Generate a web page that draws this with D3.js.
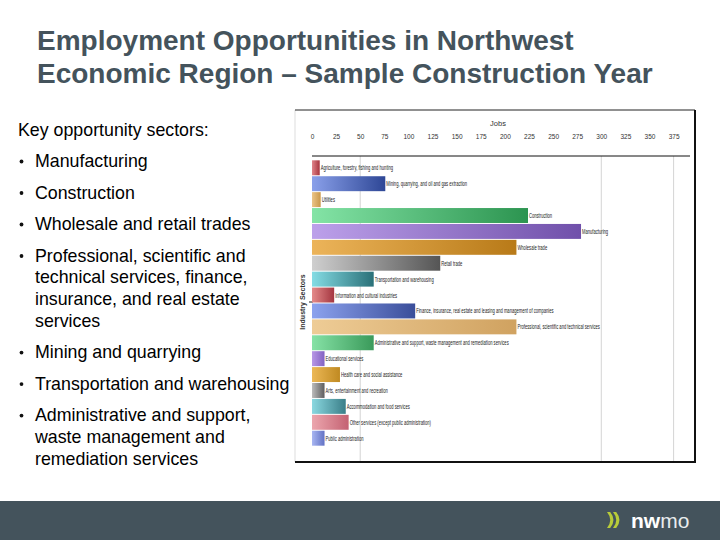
<!DOCTYPE html>
<html><head><meta charset="utf-8">
<script src="https://cdn.jsdelivr.net/npm/d3@7"></script>
<style>html,body{margin:0;padding:0;background:#fff;}svg{display:block;font-family:"Liberation Sans",Arial,sans-serif;}</style>
</head><body>
<svg id="c" width="720" height="540"></svg>
<script>
const titleLines = ["Employment Opportunities in Northwest", "Economic Region \u2013 Sample Construction Year"];
const introText = "Key opportunity sectors:";
const bullets = [
  ["Manufacturing"],
  ["Construction"],
  ["Wholesale and retail trades"],
  ["Professional, scientific and", "technical services, finance,", "insurance, and real estate", "services"],
  ["Mining and quarrying"],
  ["Transportation and warehousing"],
  ["Administrative and support,", "waste management and", "remediation services"]
];
const sectors = [
  "Agriculture, forestry, fishing and hunting",
  "Mining, quarrying, and oil and gas extraction",
  "Utilities",
  "Construction",
  "Manufacturing",
  "Wholesale trade",
  "Retail trade",
  "Transportation and warehousing",
  "Information and cultural industries",
  "Finance, insurance, real estate and leasing and management of companies",
  "Professional, scientific and technical services",
  "Administrative and support, waste management and remediation services",
  "Educational services",
  "Health care and social assistance",
  "Arts, entertainment and recreation",
  "Accommodation and food services",
  "Other services (except public administration)",
  "Public administration"
];
const jobs = [8, 76, 9, 224, 279, 212, 133, 64, 23, 107, 212, 64, 13, 29, 13, 35, 38, 13];
const tickValues = [0, 25, 50, 75, 100, 125, 150, 175, 200, 225, 250, 275, 300, 325, 350, 375];
const gridValues = [50, 300, 375];
const xTitle = "Jobs";
const yTitle = "Industry Sectors";

const palette = [
  ["#e0848a","#a8343e"],["#8aa0ea","#2e4796"],["#ecc588","#c9974a"],["#84e4a6","#2c9450"],
  ["#bca0ea","#7050aa"],["#ecb45a","#b87a18"],["#cfcfcf","#555555"],["#84dce4","#2a7078"],
  ["#e48a8a","#a43640"],["#8ca2ee","#3a4e9a"],["#eecc96","#d0a260"],["#86e2a6","#3a9a5a"],
  ["#b898e6","#8262c2"],["#ecb856","#c08a22"],["#bcbcbc","#5e5e5e"],["#8ad8e0","#3a7e88"],
  ["#eca6ae","#c46272"],["#a8b6f2","#6272c4"]
];

const svg = d3.select("#c");
const slate = "#44535c";

// Title
svg.append("g").selectAll("text").data(titleLines).join("text")
  .attr("x", 37).attr("y", (d,i) => 50 + i*33)
  .attr("fill", slate).attr("font-size", 28).attr("font-weight", "bold")
  .text(d => d);

// Left text
const bodySize = 17.8;
svg.append("text").attr("x", 18).attr("y", 136).attr("font-size", bodySize).attr("fill", "#000").text(introText);
let yy = 167;
const lg = svg.append("g");
bullets.forEach(b => {
  lg.append("circle").attr("cx", 21.5).attr("cy", yy - 5.5).attr("r", 1.9).attr("fill", "#111");
  b.forEach((ln, j) => {
    lg.append("text").attr("x", 35).attr("y", yy + j*21.7).attr("font-size", bodySize).attr("fill", "#000").text(ln);
  });
  yy += (b.length - 1)*21.7 + 31.5;
});

// Chart frame
const fx = 295, fy = 110, fw = 400, fh = 352;
svg.append("line").attr("x1", fx).attr("x2", fx).attr("y1", fy).attr("y2", fy+fh).attr("stroke", "#ddd");
svg.append("line").attr("x1", fx).attr("x2", fx+fw).attr("y1", fy).attr("y2", fy).attr("stroke", "#222").attr("stroke-width", 1);
svg.append("line").attr("x1", fx+fw).attr("x2", fx+fw).attr("y1", fy).attr("y2", fy+fh+1).attr("stroke", "#111").attr("stroke-width", 2);
svg.append("line").attr("x1", fx).attr("x2", fx+fw+1).attr("y1", fy+fh).attr("y2", fy+fh).attr("stroke", "#111").attr("stroke-width", 2);

const x = d3.scaleLinear().domain([0, 392]).range([312, 690]);
const y = d3.scaleBand().domain(sectors).range([160, 446]).paddingInner(0.06).paddingOuter(0.02);

// gradients
const defs = svg.append("defs");
palette.forEach((p, i) => {
  const g = defs.append("linearGradient").attr("id", "g"+i).attr("x1","0").attr("x2","1").attr("y1","0").attr("y2","0");
  g.append("stop").attr("offset","0").attr("stop-color", p[0]);
  g.append("stop").attr("offset","1").attr("stop-color", p[1]);
});

// gridlines
svg.append("g").selectAll("line").data(gridValues).join("line")
  .attr("x1", d => x(d)).attr("x2", d => x(d)).attr("y1", 156).attr("y2", fy+fh-1)
  .attr("stroke", "#d4d4d4").attr("stroke-width", 1);

// axis
const ax = svg.append("g").attr("transform", "translate(0,156)")
  .call(d3.axisTop(x).tickValues(tickValues).tickSize(0).tickPadding(17).tickFormat(d3.format("d")));
ax.select(".domain").attr("stroke", "#111").attr("d", "M312,0H690");
ax.selectAll("text").attr("font-size", 6.5).attr("fill", "#333").attr("font-family", "Liberation Sans, Arial");

svg.append("text").attr("x", 498).attr("y", 126).attr("text-anchor", "middle")
  .attr("font-size", 7.5).attr("fill", "#333").text(xTitle);

// y title
svg.append("text").attr("transform", "translate(305,302) rotate(-90)").attr("text-anchor", "middle")
  .attr("font-size", 7).attr("font-weight", "bold").attr("fill", "#333").text(yTitle);
svg.append("line").attr("x1", 309).attr("x2", 313).attr("y1", 302).attr("y2", 302).attr("stroke", "#222");

// bars
svg.append("g").selectAll("rect").data(sectors).join("rect")
  .attr("x", x(0)).attr("y", d => y(d)).attr("height", y.bandwidth())
  .attr("width", (d,i) => x(jobs[i]) - x(0))
  .attr("fill", (d,i) => `url(#g${i})`);

// labels
svg.append("g").selectAll("text").data(sectors).join("text")
  .attr("transform", (d,i) => `translate(${x(jobs[i]) + 1},${y(d) + y.bandwidth()/2 + 2.5}) scale(0.55,1)`)
  .attr("font-size", 7.5).attr("fill", "#222").text(d => d);

// footer
svg.append("rect").attr("x", 0).attr("y", 501).attr("width", 720).attr("height", 39).attr("fill", slate);
const lime = "#b8cc3a";
[0, 6].forEach(o => {
  svg.append("path").attr("d", `M${607+o},512 q6.5,8 0,16 l3.2,0 q6.5,-8 0,-16 z`).attr("fill", lime);
});
const lt = svg.append("text").attr("x", 631).attr("y", 528).attr("font-size", 21).attr("fill", "#fff");
lt.append("tspan").attr("font-weight", "bold").text("nw");
lt.append("tspan").attr("font-weight", "normal").attr("fill", "#e8ecee").text("mo");
</script>
</body></html>
